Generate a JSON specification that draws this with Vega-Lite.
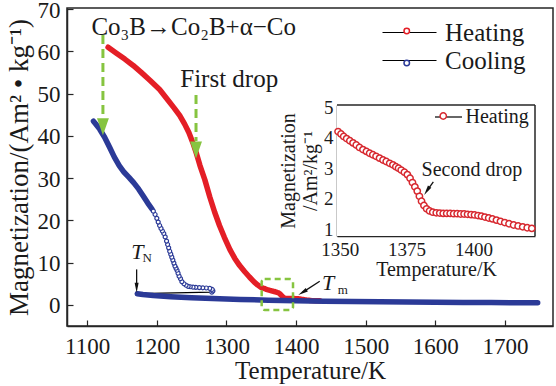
{
  "$schema": "https://vega.github.io/schema/vega-lite/v6.json",
  "width": 486,
  "height": 318,
  "autosize": {"type": "none"},
  "padding": {"left": 67, "top": 8, "right": 3, "bottom": 60},
  "background": "white",
  "config": {
    "font": "Liberation Serif",
    "view": {"stroke": "#262626", "strokeWidth": 1.5},
    "axis": {"grid": false, "domainColor": "#262626", "domainWidth": 1.5, "tickColor": "#262626", "tickWidth": 1.2, "labelColor": "#1a1a1a", "titleColor": "#1a1a1a", "labelFont": "Liberation Serif", "titleFont": "Liberation Serif", "titleFontWeight": "normal"},
    "legend": {"labelFont": "Liberation Serif", "labelColor": "#1a1a1a"}
  },
  "datasets": {
    "heating": [
      {"T": 1130, "M": 61.0, "series": "Heating"},
      {"T": 1142, "M": 59.6, "series": "Heating"},
      {"T": 1154, "M": 58.2, "series": "Heating"},
      {"T": 1166, "M": 56.7, "series": "Heating"},
      {"T": 1178, "M": 55.0, "series": "Heating"},
      {"T": 1190, "M": 53.2, "series": "Heating"},
      {"T": 1204, "M": 51.0, "series": "Heating"},
      {"T": 1215, "M": 48.7, "series": "Heating"},
      {"T": 1225, "M": 46.6, "series": "Heating"},
      {"T": 1233, "M": 44.8, "series": "Heating"},
      {"T": 1240, "M": 42.8, "series": "Heating"},
      {"T": 1246, "M": 40.8, "series": "Heating"},
      {"T": 1252, "M": 38.3, "series": "Heating"},
      {"T": 1257, "M": 35.8, "series": "Heating"},
      {"T": 1262, "M": 33.0, "series": "Heating"},
      {"T": 1269, "M": 29.6, "series": "Heating"},
      {"T": 1276, "M": 25.6, "series": "Heating"},
      {"T": 1283, "M": 22.0, "series": "Heating"},
      {"T": 1290, "M": 18.8, "series": "Heating"},
      {"T": 1297, "M": 16.0, "series": "Heating"},
      {"T": 1305, "M": 13.1, "series": "Heating"},
      {"T": 1312, "M": 11.0, "series": "Heating"},
      {"T": 1319, "M": 9.3, "series": "Heating"},
      {"T": 1326, "M": 7.9, "series": "Heating"},
      {"T": 1333, "M": 6.6, "series": "Heating"},
      {"T": 1340, "M": 5.4, "series": "Heating"},
      {"T": 1345, "M": 4.7, "series": "Heating"},
      {"T": 1349.4, "M": 4.20, "series": "Heating"},
      {"T": 1350.5, "M": 4.12, "series": "Heating"},
      {"T": 1351.5, "M": 4.04, "series": "Heating"},
      {"T": 1352.6, "M": 3.97, "series": "Heating"},
      {"T": 1353.8, "M": 3.90, "series": "Heating"},
      {"T": 1355.0, "M": 3.83, "series": "Heating"},
      {"T": 1356.2, "M": 3.76, "series": "Heating"},
      {"T": 1357.4, "M": 3.68, "series": "Heating"},
      {"T": 1358.7, "M": 3.61, "series": "Heating"},
      {"T": 1360.0, "M": 3.55, "series": "Heating"},
      {"T": 1361.2, "M": 3.49, "series": "Heating"},
      {"T": 1362.4, "M": 3.44, "series": "Heating"},
      {"T": 1363.6, "M": 3.39, "series": "Heating"},
      {"T": 1364.9, "M": 3.33, "series": "Heating"},
      {"T": 1366.2, "M": 3.27, "series": "Heating"},
      {"T": 1367.4, "M": 3.22, "series": "Heating"},
      {"T": 1368.7, "M": 3.16, "series": "Heating"},
      {"T": 1369.9, "M": 3.11, "series": "Heating"},
      {"T": 1371.0, "M": 3.05, "series": "Heating"},
      {"T": 1372.0, "M": 3.00, "series": "Heating"},
      {"T": 1373.0, "M": 2.94, "series": "Heating"},
      {"T": 1374.2, "M": 2.87, "series": "Heating"},
      {"T": 1375.3, "M": 2.79, "series": "Heating"},
      {"T": 1376.3, "M": 2.67, "series": "Heating"},
      {"T": 1377.2, "M": 2.53, "series": "Heating"},
      {"T": 1378.1, "M": 2.39, "series": "Heating"},
      {"T": 1379.0, "M": 2.25, "series": "Heating"},
      {"T": 1379.8, "M": 2.08, "series": "Heating"},
      {"T": 1380.6, "M": 1.92, "series": "Heating"},
      {"T": 1381.5, "M": 1.78, "series": "Heating"},
      {"T": 1382.5, "M": 1.67, "series": "Heating"},
      {"T": 1383.6, "M": 1.60, "series": "Heating"},
      {"T": 1384.8, "M": 1.56, "series": "Heating"},
      {"T": 1386.1, "M": 1.54, "series": "Heating"},
      {"T": 1387.4, "M": 1.53, "series": "Heating"},
      {"T": 1388.7, "M": 1.52, "series": "Heating"},
      {"T": 1390.0, "M": 1.52, "series": "Heating"},
      {"T": 1391.3, "M": 1.52, "series": "Heating"},
      {"T": 1392.6, "M": 1.51, "series": "Heating"},
      {"T": 1393.9, "M": 1.51, "series": "Heating"},
      {"T": 1395.2, "M": 1.50, "series": "Heating"},
      {"T": 1396.5, "M": 1.50, "series": "Heating"},
      {"T": 1397.8, "M": 1.49, "series": "Heating"},
      {"T": 1399.1, "M": 1.48, "series": "Heating"},
      {"T": 1400.4, "M": 1.47, "series": "Heating"},
      {"T": 1401.7, "M": 1.45, "series": "Heating"},
      {"T": 1403.0, "M": 1.43, "series": "Heating"},
      {"T": 1404.3, "M": 1.40, "series": "Heating"},
      {"T": 1405.7, "M": 1.37, "series": "Heating"},
      {"T": 1407.1, "M": 1.34, "series": "Heating"},
      {"T": 1408.6, "M": 1.30, "series": "Heating"},
      {"T": 1410.1, "M": 1.26, "series": "Heating"},
      {"T": 1411.7, "M": 1.22, "series": "Heating"},
      {"T": 1413.3, "M": 1.18, "series": "Heating"},
      {"T": 1415.0, "M": 1.14, "series": "Heating"},
      {"T": 1416.7, "M": 1.11, "series": "Heating"},
      {"T": 1418.4, "M": 1.08, "series": "Heating"},
      {"T": 1420.1, "M": 1.05, "series": "Heating"},
      {"T": 1421.8, "M": 1.03, "series": "Heating"},
      {"T": 1428, "M": 0.98, "series": "Heating"},
      {"T": 1434, "M": 0.95, "series": "Heating"}
    ],
    "cooling": [
      {"i": 1, "seg": 1, "T": 1747, "M": 0.50, "series": "Cooling"},
      {"i": 2, "seg": 1, "T": 1720, "M": 0.52, "series": "Cooling"},
      {"i": 3, "seg": 1, "T": 1680, "M": 0.55, "series": "Cooling"},
      {"i": 4, "seg": 1, "T": 1640, "M": 0.58, "series": "Cooling"},
      {"i": 5, "seg": 1, "T": 1600, "M": 0.62, "series": "Cooling"},
      {"i": 6, "seg": 1, "T": 1560, "M": 0.66, "series": "Cooling"},
      {"i": 7, "seg": 1, "T": 1520, "M": 0.72, "series": "Cooling"},
      {"i": 8, "seg": 1, "T": 1480, "M": 0.80, "series": "Cooling"},
      {"i": 9, "seg": 1, "T": 1440, "M": 0.88, "series": "Cooling"},
      {"i": 10, "seg": 1, "T": 1400, "M": 0.98, "series": "Cooling"},
      {"i": 11, "seg": 1, "T": 1360, "M": 1.12, "series": "Cooling"},
      {"i": 12, "seg": 1, "T": 1320, "M": 1.30, "series": "Cooling"},
      {"i": 13, "seg": 1, "T": 1280, "M": 1.50, "series": "Cooling"},
      {"i": 14, "seg": 1, "T": 1250, "M": 1.70, "series": "Cooling"},
      {"i": 15, "seg": 1, "T": 1220, "M": 1.95, "series": "Cooling"},
      {"i": 16, "seg": 1, "T": 1195, "M": 2.20, "series": "Cooling"},
      {"i": 17, "seg": 1, "T": 1180, "M": 2.45, "series": "Cooling"},
      {"i": 18, "seg": 1, "T": 1172, "M": 2.65, "series": "Cooling"},
      {"i": 19, "seg": 2, "T": 1279, "M": 3.0, "series": "Cooling"},
      {"i": 20, "seg": 2, "T": 1280.5, "M": 3.3, "series": "Cooling"},
      {"i": 21, "seg": 2, "T": 1279.5, "M": 3.65, "series": "Cooling"},
      {"i": 22, "seg": 2, "T": 1276, "M": 3.9, "series": "Cooling"},
      {"i": 23, "seg": 2, "T": 1271, "M": 4.0, "series": "Cooling"},
      {"i": 24, "seg": 2, "T": 1266, "M": 4.05, "series": "Cooling"},
      {"i": 25, "seg": 2, "T": 1261, "M": 4.1, "series": "Cooling"},
      {"i": 26, "seg": 2, "T": 1256, "M": 4.15, "series": "Cooling"},
      {"i": 27, "seg": 2, "T": 1252, "M": 4.2, "series": "Cooling"},
      {"i": 28, "seg": 2, "T": 1248, "M": 4.3, "series": "Cooling"},
      {"i": 29, "seg": 2, "T": 1245, "M": 4.4, "series": "Cooling"},
      {"i": 30, "seg": 2, "T": 1242, "M": 4.65, "series": "Cooling"},
      {"i": 31, "seg": 2, "T": 1239, "M": 5.0, "series": "Cooling"},
      {"i": 32, "seg": 2, "T": 1236, "M": 5.5, "series": "Cooling"},
      {"i": 33, "seg": 2, "T": 1234, "M": 6.2, "series": "Cooling"},
      {"i": 34, "seg": 2, "T": 1232, "M": 6.8, "series": "Cooling"},
      {"i": 35, "seg": 2, "T": 1230.5, "M": 7.5, "series": "Cooling"},
      {"i": 36, "seg": 2, "T": 1229, "M": 8.2, "series": "Cooling"},
      {"i": 37, "seg": 2, "T": 1227.5, "M": 8.7, "series": "Cooling"},
      {"i": 38, "seg": 2, "T": 1226, "M": 9.2, "series": "Cooling"},
      {"i": 39, "seg": 2, "T": 1224.5, "M": 9.9, "series": "Cooling"},
      {"i": 40, "seg": 2, "T": 1223, "M": 10.6, "series": "Cooling"},
      {"i": 41, "seg": 2, "T": 1221.5, "M": 11.3, "series": "Cooling"},
      {"i": 42, "seg": 2, "T": 1220, "M": 12.0, "series": "Cooling"},
      {"i": 43, "seg": 2, "T": 1218.5, "M": 12.7, "series": "Cooling"},
      {"i": 44, "seg": 2, "T": 1217, "M": 13.5, "series": "Cooling"},
      {"i": 45, "seg": 2, "T": 1215.5, "M": 14.3, "series": "Cooling"},
      {"i": 46, "seg": 2, "T": 1214, "M": 15.1, "series": "Cooling"},
      {"i": 47, "seg": 2, "T": 1212, "M": 16.1, "series": "Cooling"},
      {"i": 48, "seg": 2, "T": 1210, "M": 16.9, "series": "Cooling"},
      {"i": 49, "seg": 2, "T": 1208, "M": 17.5, "series": "Cooling"},
      {"i": 50, "seg": 2, "T": 1206, "M": 18.1, "series": "Cooling"},
      {"i": 51, "seg": 2, "T": 1204, "M": 18.8, "series": "Cooling"},
      {"i": 52, "seg": 2, "T": 1202, "M": 19.6, "series": "Cooling"},
      {"i": 53, "seg": 2, "T": 1200, "M": 20.5, "series": "Cooling"},
      {"i": 54, "seg": 2, "T": 1197.5, "M": 21.4, "series": "Cooling"},
      {"i": 55, "seg": 2, "T": 1195, "M": 22.2, "series": "Cooling"},
      {"i": 56, "seg": 3, "T": 1193, "M": 22.7, "series": "Cooling"},
      {"i": 57, "seg": 3, "T": 1187, "M": 24.1, "series": "Cooling"},
      {"i": 58, "seg": 3, "T": 1180, "M": 25.9, "series": "Cooling"},
      {"i": 59, "seg": 3, "T": 1174, "M": 27.4, "series": "Cooling"},
      {"i": 60, "seg": 3, "T": 1167, "M": 28.9, "series": "Cooling"},
      {"i": 61, "seg": 3, "T": 1160, "M": 30.2, "series": "Cooling"},
      {"i": 62, "seg": 3, "T": 1153, "M": 31.4, "series": "Cooling"},
      {"i": 63, "seg": 3, "T": 1146, "M": 33.0, "series": "Cooling"},
      {"i": 64, "seg": 3, "T": 1139, "M": 35.0, "series": "Cooling"},
      {"i": 65, "seg": 3, "T": 1132, "M": 37.4, "series": "Cooling"},
      {"i": 66, "seg": 3, "T": 1125, "M": 39.7, "series": "Cooling"},
      {"i": 67, "seg": 3, "T": 1118, "M": 41.6, "series": "Cooling"},
      {"i": 68, "seg": 3, "T": 1112, "M": 42.9, "series": "Cooling"},
      {"i": 69, "seg": 3, "T": 1109, "M": 43.5, "series": "Cooling"}
    ]
  },
  "layer": [
    {
      "data": {"name": "cooling"},
      "mark": {"type": "line", "strokeWidth": 1.2},
      "encoding": {
        "x": {"field": "T", "type": "quantitative", "scale": {"domain": [1071, 1769], "nice": false, "zero": false},
              "axis": {"orient": "bottom", "values": [1100, 1200, 1300, 1400, 1500, 1600, 1700], "format": "d", "title": "Temperature/K", "labelFont": "Liberation Serif", "titleFont": "Liberation Serif", "labelFontSize": 23, "titleFontSize": 25, "tickSize": -6, "labelPadding": 15, "titlePadding": 0}},
        "y": {"field": "M", "type": "quantitative", "scale": {"domain": [-5, 70.3], "nice": false, "zero": false},
              "axis": {"orient": "left", "values": [0, 10, 20, 30, 40, 50, 60, 70], "format": "d", "title": "Magnetization/(Am² • kg⁻¹)", "labelFont": "Liberation Serif", "titleFont": "Liberation Serif", "labelFontSize": 23, "titleFontSize": 27, "tickSize": -6, "labelPadding": 13, "labelOffset": 1, "titlePadding": 4}},
        "order": {"field": "i", "type": "quantitative"},
        "color": {"field": "series", "type": "nominal", "scale": {"domain": ["Heating", "Cooling"], "range": ["black", "black"]},
                  "legend": {"orient": "none", "legendX": 330, "legendY": 12, "title": null, "symbolType": "M-3,0H3", "symbolSize": 324, "symbolStrokeWidth": 1.2, "labelFont": "Liberation Serif", "labelFontSize": 25, "labelOffset": 23, "rowPadding": 2, "padding": 0}}
      }
    },
    {
      "data": {"name": "heating"},
      "mark": {"type": "line", "stroke": "#e41e26", "strokeWidth": 5.5, "strokeCap": "round", "strokeJoin": "round"},
      "encoding": {
        "x": {"field": "T", "type": "quantitative", "scale": {"domain": [1071, 1769], "nice": false, "zero": false}, "axis": null},
        "y": {"field": "M", "type": "quantitative", "scale": {"domain": [-5, 70.3], "nice": false, "zero": false}, "axis": null}
      }
    },
    {
      "data": {"name": "cooling"},
      "transform": [{"filter": "datum.seg != 2"}],
      "mark": {"type": "line", "stroke": "#2b3a97", "strokeWidth": 5.5, "strokeCap": "round", "strokeJoin": "round"},
      "encoding": {
        "x": {"field": "T", "type": "quantitative", "scale": {"domain": [1071, 1769], "nice": false, "zero": false}, "axis": null},
        "y": {"field": "M", "type": "quantitative", "scale": {"domain": [-5, 70.3], "nice": false, "zero": false}, "axis": null},
        "detail": {"field": "seg", "type": "nominal"},
        "order": {"field": "i", "type": "quantitative"}
      }
    },
    {
      "data": {"name": "cooling"},
      "transform": [{"filter": "datum.seg == 2"}],
      "mark": {"type": "point", "shape": "circle", "filled": false, "fill": "white", "size": 16, "strokeWidth": 1.2, "opacity": 1},
      "encoding": {
        "x": {"field": "T", "type": "quantitative", "scale": {"domain": [1071, 1769], "nice": false, "zero": false}, "axis": null},
        "y": {"field": "M", "type": "quantitative", "scale": {"domain": [-5, 70.3], "nice": false, "zero": false}, "axis": null},
        "stroke": {"field": "series", "type": "nominal", "scale": {"domain": ["Heating", "Cooling"], "range": ["#e41e26", "#2b3a97"]},
                   "legend": {"orient": "none", "legendX": 336.25, "legendY": 19.5, "title": null, "symbolType": "circle", "symbolSize": 30, "symbolStrokeWidth": 1.5, "symbolFillColor": "white", "symbolOpacity": 1, "labelExpr": "''", "labelFontSize": 1, "labelOffset": 0, "rowPadding": 19, "padding": 0}}
      }
    },
    {
      "data": {"values": [{"T": 1350.6, "T2": 1395.6, "M": -1.2, "M2": 6.1}]},
      "mark": {"type": "rect", "fill": null, "fillOpacity": 0, "stroke": "#86c440", "strokeWidth": 2.5, "strokeDash": [6, 4], "cornerRadius": 3},
      "encoding": {
        "x": {"field": "T", "type": "quantitative", "scale": {"domain": [1071, 1769], "nice": false, "zero": false}, "axis": null},
        "x2": {"field": "T2"},
        "y": {"field": "M", "type": "quantitative", "scale": {"domain": [-5, 70.3], "nice": false, "zero": false}, "axis": null},
        "y2": {"field": "M2"}
      }
    },
    {
      "data": {"values": [{"T": 1122.6, "M": 63.9, "M2": 44.5}, {"T": 1256.3, "M": 49.7, "M2": 38.8}]},
      "mark": {"type": "rule", "stroke": "#86c440", "strokeWidth": 3, "strokeDash": [9, 5]},
      "encoding": {
        "x": {"field": "T", "type": "quantitative", "scale": {"domain": [1071, 1769], "nice": false, "zero": false}, "axis": null},
        "y": {"field": "M", "type": "quantitative", "scale": {"domain": [-5, 70.3], "nice": false, "zero": false}, "axis": null},
        "y2": {"field": "M2"}
      }
    },
    {
      "data": {"values": [{"T": 1122.6, "M": 42.2}, {"T": 1256.3, "M": 36.7}]},
      "mark": {"type": "point", "shape": "M0,1L-0.7,-1L0.7,-1Z", "filled": true, "fill": "#86c440", "strokeWidth": 0, "size": 289, "opacity": 1},
      "encoding": {
        "x": {"field": "T", "type": "quantitative", "scale": {"domain": [1071, 1769], "nice": false, "zero": false}, "axis": null},
        "y": {"field": "M", "type": "quantitative", "scale": {"domain": [-5, 70.3], "nice": false, "zero": false}, "axis": null}
      }
    },
    {
      "data": {"values": [{"T": 1171, "M": 8.4, "T2": 1171, "M2": 4.2}, {"T": 1434, "M": 5.6, "T2": 1409.3, "M2": 2.97}]},
      "mark": {"type": "rule", "stroke": "#111111", "strokeWidth": 1.3},
      "encoding": {
        "x": {"field": "T", "type": "quantitative", "scale": {"domain": [1071, 1769], "nice": false, "zero": false}, "axis": null},
        "x2": {"field": "T2"},
        "y": {"field": "M", "type": "quantitative", "scale": {"domain": [-5, 70.3], "nice": false, "zero": false}, "axis": null},
        "y2": {"field": "M2"}
      }
    },
    {
      "data": {"values": [{"T": 1171, "M": 4.08}]},
      "mark": {"type": "point", "shape": "M0,1L-0.4,-1L0.4,-1Z", "filled": true, "fill": "#111111", "strokeWidth": 0, "size": 100, "opacity": 1},
      "encoding": {
        "x": {"field": "T", "type": "quantitative", "scale": {"domain": [1071, 1769], "nice": false, "zero": false}, "axis": null},
        "y": {"field": "M", "type": "quantitative", "scale": {"domain": [-5, 70.3], "nice": false, "zero": false}, "axis": null}
      }
    },
    {
      "data": {"values": [{"T": 1409.3, "M": 2.97}]},
      "mark": {"type": "point", "shape": "M0,1L-0.4,-1L0.4,-1Z", "filled": true, "fill": "#111111", "strokeWidth": 0, "size": 100, "opacity": 1, "angle": 58},
      "encoding": {
        "x": {"field": "T", "type": "quantitative", "scale": {"domain": [1071, 1769], "nice": false, "zero": false}, "axis": null},
        "y": {"field": "M", "type": "quantitative", "scale": {"domain": [-5, 70.3], "nice": false, "zero": false}, "axis": null}
      }
    },
    {
      "data": {"values": [{"T": 1253, "M": 65.7, "label": "Co₃B→Co₂B+α−Co"}, {"T": 1304, "M": 53.4, "label": "First drop"}]},
      "mark": {"type": "text", "font": "Liberation Serif", "fontSize": 25, "color": "#1a1a1a", "align": "center", "baseline": "middle"},
      "encoding": {
        "x": {"field": "T", "type": "quantitative", "scale": {"domain": [1071, 1769], "nice": false, "zero": false}, "axis": null},
        "y": {"field": "M", "type": "quantitative", "scale": {"domain": [-5, 70.3], "nice": false, "zero": false}, "axis": null},
        "text": {"field": "label"}
      }
    },
    {
      "data": {"values": [{"T": 1172, "M": 12.6, "label": "T"}, {"T": 1446, "M": 5.3, "label": "T"}]},
      "mark": {"type": "text", "font": "Liberation Serif", "fontSize": 22, "fontStyle": "italic", "color": "#1a1a1a", "align": "center", "baseline": "middle"},
      "encoding": {
        "x": {"field": "T", "type": "quantitative", "scale": {"domain": [1071, 1769], "nice": false, "zero": false}, "axis": null},
        "y": {"field": "M", "type": "quantitative", "scale": {"domain": [-5, 70.3], "nice": false, "zero": false}, "axis": null},
        "text": {"field": "label"}
      }
    },
    {
      "data": {"values": [{"T": 1186, "M": 11.2, "label": "N"}, {"T": 1467, "M": 3.5, "label": "m"}]},
      "mark": {"type": "text", "font": "Liberation Serif", "fontSize": 13, "color": "#1a1a1a", "align": "center", "baseline": "middle"},
      "encoding": {
        "x": {"field": "T", "type": "quantitative", "scale": {"domain": [1071, 1769], "nice": false, "zero": false}, "axis": null},
        "y": {"field": "M", "type": "quantitative", "scale": {"domain": [-5, 70.3], "nice": false, "zero": false}, "axis": null},
        "text": {"field": "label"}
      }
    },
    {
      "data": {"values": [{"T": 1349, "T2": 1423, "M": 0.78, "M2": 5.07}]},
      "mark": {"type": "rect", "fill": "white", "strokeWidth": 0},
      "encoding": {
        "x": {"field": "T", "type": "quantitative", "scale": {"domain": [1349, 1423], "range": [270, 468], "nice": false, "zero": false},
              "axis": {"orient": "bottom", "offset": -90, "values": [1350, 1375, 1400], "format": "d", "title": "Temperature/K", "labelFont": "Liberation Serif", "titleFont": "Liberation Serif", "labelFontSize": 19, "titleFontSize": 20, "tickSize": -4, "labelPadding": 8, "titlePadding": 0}},
        "x2": {"field": "T2"},
        "y": {"field": "M", "type": "quantitative", "scale": {"domain": [0.78, 5.07], "range": [228, 97], "nice": false, "zero": false},
              "axis": {"orient": "left", "offset": -270, "values": [1, 2, 3, 4, 5], "format": "d", "title": ["Magnetization", "/Am²/kg⁻¹"], "labelFont": "Liberation Serif", "titleFont": "Liberation Serif", "labelFontSize": 19, "titleFontSize": 20, "titleLineHeight": 22, "tickSize": -4, "labelPadding": 8, "titlePadding": 3}},
        "y2": {"field": "M2"}
      }
    },
    {
      "data": {"values": [{"T": 1423, "T2": 1423, "M": 0.78, "M2": 5.07}, {"T": 1349, "T2": 1423, "M": 5.07, "M2": 5.07}]},
      "mark": {"type": "rule", "stroke": "#262626", "strokeWidth": 1.5},
      "encoding": {
        "x": {"field": "T", "type": "quantitative", "scale": {"domain": [1349, 1423], "range": [270, 468], "nice": false, "zero": false}, "axis": null},
        "x2": {"field": "T2"},
        "y": {"field": "M", "type": "quantitative", "scale": {"domain": [0.78, 5.07], "range": [228, 97], "nice": false, "zero": false}, "axis": null},
        "y2": {"field": "M2"}
      }
    },
    {
      "data": {"name": "heating"},
      "transform": [{"filter": "datum.T >= 1349 && datum.T <= 1423"}],
      "mark": {"type": "line", "strokeWidth": 1},
      "encoding": {
        "x": {"field": "T", "type": "quantitative", "scale": {"domain": [1349, 1423], "range": [270, 468], "nice": false, "zero": false}, "axis": null},
        "y": {"field": "M", "type": "quantitative", "scale": {"domain": [0.78, 5.07], "range": [228, 97], "nice": false, "zero": false}, "axis": null},
        "color": {"field": "series", "type": "nominal", "scale": {"domain": ["Heating"], "range": ["black"]},
                  "legend": {"orient": "none", "legendX": 371.5, "legendY": 99, "title": null, "symbolType": "M-3,0H3", "symbolSize": 81, "symbolStrokeWidth": 1.2, "labelFont": "Liberation Serif", "labelFontSize": 20, "labelOffset": 7, "padding": 0}}
      }
    },
    {
      "data": {"name": "heating"},
      "transform": [{"filter": "datum.T >= 1349 && datum.T <= 1423"}],
      "mark": {"type": "point", "shape": "circle", "filled": false, "fill": "white", "size": 40, "strokeWidth": 1.5, "opacity": 1},
      "encoding": {
        "x": {"field": "T", "type": "quantitative", "scale": {"domain": [1349, 1423], "range": [270, 468], "nice": false, "zero": false}, "axis": null},
        "y": {"field": "M", "type": "quantitative", "scale": {"domain": [0.78, 5.07], "range": [228, 97], "nice": false, "zero": false}, "axis": null},
        "stroke": {"field": "series", "type": "nominal", "scale": {"domain": ["Heating"], "range": ["#d7282f"]},
                   "legend": {"orient": "none", "legendX": 372.25, "legendY": 104, "title": null, "symbolType": "circle", "symbolSize": 40, "symbolStrokeWidth": 1.5, "symbolFillColor": "white", "symbolOpacity": 1, "labelExpr": "''", "labelFontSize": 1, "labelOffset": 0, "padding": 0}}
      }
    },
    {
      "data": {"values": [{"T": 1385, "M": 2.55, "T2": 1382.6, "M2": 2.26}]},
      "mark": {"type": "rule", "stroke": "#111111", "strokeWidth": 1.3},
      "encoding": {
        "x": {"field": "T", "type": "quantitative", "scale": {"domain": [1349, 1423], "range": [270, 468], "nice": false, "zero": false}, "axis": null},
        "x2": {"field": "T2"},
        "y": {"field": "M", "type": "quantitative", "scale": {"domain": [0.78, 5.07], "range": [228, 97], "nice": false, "zero": false}, "axis": null},
        "y2": {"field": "M2"}
      }
    },
    {
      "data": {"values": [{"T": 1382.6, "M": 2.26}]},
      "mark": {"type": "point", "shape": "M0,1L-0.4,-1L0.4,-1Z", "filled": true, "fill": "#111111", "strokeWidth": 0, "size": 100, "opacity": 1, "angle": 33},
      "encoding": {
        "x": {"field": "T", "type": "quantitative", "scale": {"domain": [1349, 1423], "range": [270, 468], "nice": false, "zero": false}, "axis": null},
        "y": {"field": "M", "type": "quantitative", "scale": {"domain": [0.78, 5.07], "range": [228, 97], "nice": false, "zero": false}, "axis": null}
      }
    },
    {
      "data": {"values": [{"T": 1399.4, "M": 2.94, "label": "Second drop"}]},
      "mark": {"type": "text", "font": "Liberation Serif", "fontSize": 20, "color": "#1a1a1a", "align": "center", "baseline": "middle"},
      "encoding": {
        "x": {"field": "T", "type": "quantitative", "scale": {"domain": [1349, 1423], "range": [270, 468], "nice": false, "zero": false}, "axis": null},
        "y": {"field": "M", "type": "quantitative", "scale": {"domain": [0.78, 5.07], "range": [228, 97], "nice": false, "zero": false}, "axis": null},
        "text": {"field": "label"}
      }
    }
  ],
  "resolve": {
    "scale": {"x": "independent", "y": "independent", "color": "independent", "stroke": "independent"},
    "axis": {"x": "independent", "y": "independent"}
  }
}
